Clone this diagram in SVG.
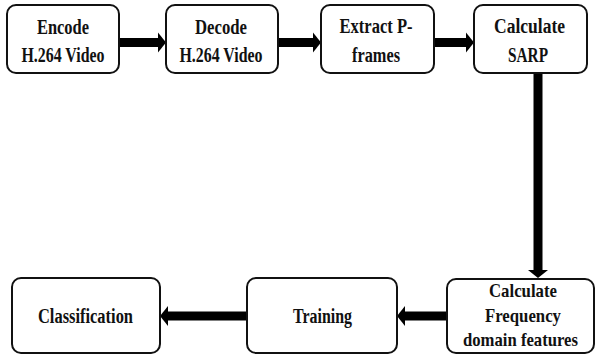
<svg xmlns="http://www.w3.org/2000/svg" width="595" height="356" viewBox="0 0 595 356">
<style>
.box{fill:#fff;stroke:#111;stroke-width:2}
.t{font-family:"Liberation Serif","Times New Roman",serif;font-weight:bold;font-size:20px;fill:#111;text-anchor:middle}
.s{font-size:19px}
.c{stroke:#000;stroke-width:9;fill:none}
</style>
<defs>
<marker id="ah" markerUnits="userSpaceOnUse" markerWidth="10" markerHeight="20" refX="0" refY="10" orient="auto" overflow="visible">
<path d="M0,0 L8,10 L0,20 Z" fill="#000"/>
</marker>
</defs>
<rect width="595" height="356" fill="#fff"/>
<g id="connectors">
<line class="c" x1="119" y1="42.5" x2="158" y2="42.5" marker-end="url(#ah)"/>
<line class="c" x1="278" y1="42.5" x2="313" y2="42.5" marker-end="url(#ah)"/>
<line class="c" x1="434" y1="42.5" x2="466" y2="42.5" marker-end="url(#ah)"/>
<line class="c" x1="538" y1="73" x2="538" y2="270" marker-end="url(#ah)"/>
<line class="c" x1="447" y1="316" x2="405" y2="316" marker-end="url(#ah)"/>
<line class="c" x1="247" y1="316" x2="168" y2="316" marker-end="url(#ah)"/>
</g>
<g id="encode">
<rect class="box" x="7" y="5" width="112" height="68" rx="9"/>
<text class="t" x="63" y="34" textLength="52" lengthAdjust="spacingAndGlyphs">Encode</text>
<text class="t" x="63" y="61.5" textLength="83" lengthAdjust="spacingAndGlyphs">H.264 Video</text>
</g>
<g id="decode">
<rect class="box" x="166" y="5" width="112" height="68" rx="9"/>
<text class="t" x="221" y="34" textLength="52" lengthAdjust="spacingAndGlyphs">Decode</text>
<text class="t" x="221" y="61.5" textLength="83" lengthAdjust="spacingAndGlyphs">H.264 Video</text>
</g>
<g id="extract">
<rect class="box" x="321" y="5" width="113" height="68" rx="9"/>
<text class="t" x="376" y="33" textLength="73" lengthAdjust="spacingAndGlyphs">Extract P-</text>
<text class="t" x="376" y="61.5" textLength="48" lengthAdjust="spacingAndGlyphs">frames</text>
</g>
<g id="sarp">
<rect class="box" x="474" y="5" width="113" height="68" rx="9"/>
<text class="t" x="529.5" y="33" textLength="71" lengthAdjust="spacingAndGlyphs">Calculate</text>
<text class="t" x="528" y="61.5" textLength="40" lengthAdjust="spacingAndGlyphs">SARP</text>
</g>
<g id="frequency">
<rect class="box" x="447" y="279" width="147" height="74" rx="9"/>
<text class="t s" x="523" y="297" textLength="68" lengthAdjust="spacingAndGlyphs">Calculate</text>
<text class="t s" x="523" y="321.5" textLength="76" lengthAdjust="spacingAndGlyphs">Frequency</text>
<text class="t s" x="520.5" y="346" textLength="115" lengthAdjust="spacingAndGlyphs">domain features</text>
</g>
<g id="training">
<rect class="box" x="247" y="278" width="150" height="75" rx="9"/>
<text class="t" x="322.5" y="323" textLength="59" lengthAdjust="spacingAndGlyphs">Training</text>
</g>
<g id="classification">
<rect class="box" x="12" y="278" width="148" height="75" rx="9"/>
<text class="t" x="85.5" y="323" textLength="95" lengthAdjust="spacingAndGlyphs">Classification</text>
</g>
</svg>
